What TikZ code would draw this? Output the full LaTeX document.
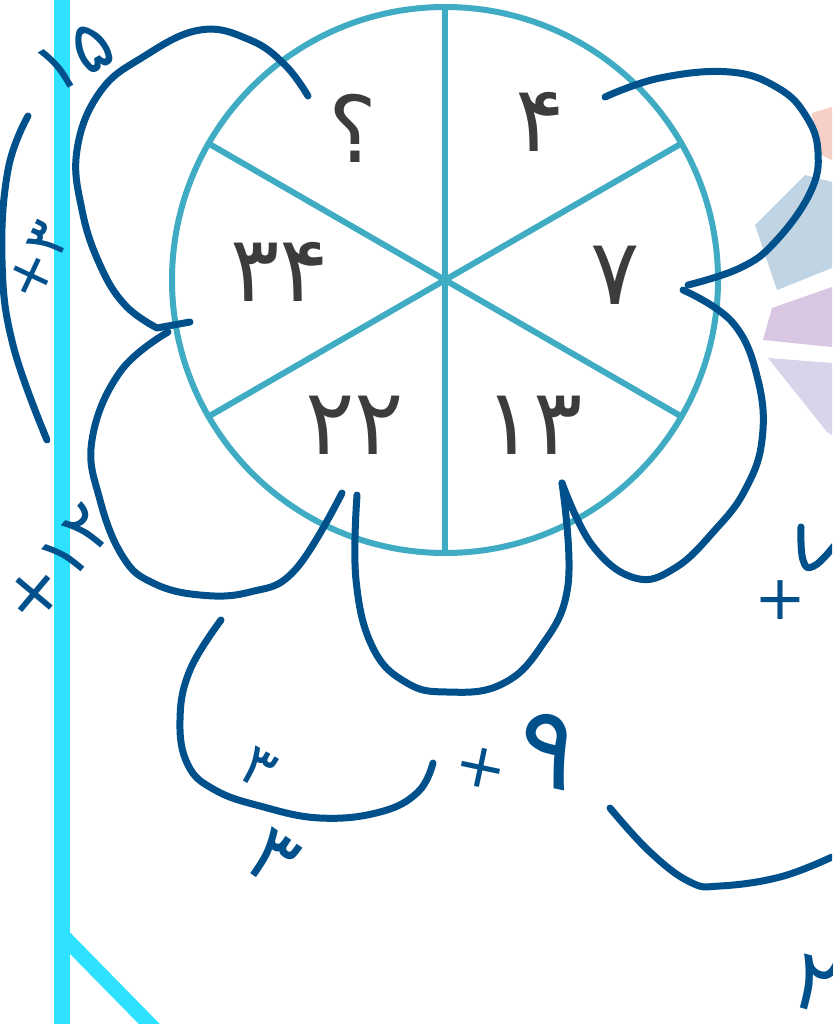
\documentclass[tikz,border=0pt]{standalone}
\usepackage{fontspec}
\newfontfamily\arabicfont[Script=Arabic]{DejaVu Sans}
\definecolor{ink}{RGB}{0,80,140}
\definecolor{teal}{RGB}{64,172,196}
\definecolor{cyanbar}{RGB}{45,225,255}
\definecolor{digit}{RGB}{60,60,60}
\definecolor{lpink}{RGB}{246,208,198}
\definecolor{lblue}{RGB}{192,212,228}
\definecolor{lpurple}{RGB}{216,198,226}
\definecolor{llav}{RGB}{218,212,234}
\tikzset{
  hand/.style={draw=ink,line width=7,line cap=round,line join=round},
  printed/.style={text=digit,font=\arabicfont\fontsize{92}{92}\selectfont,inner sep=0},
  handtext/.style={text=ink,font=\arabicfont\fontsize{#1}{#1}\selectfont,inner sep=0},
}
\begin{document}
\begin{tikzpicture}[x=1pt,y=-1pt]
\useasboundingbox (0,0) rectangle (832,1024);
\clip (0,0) rectangle (832,1024);
\fill[white] (0,0) rectangle (832,1024);
% faint logo
\fill[lpink] (812,113) -- (832,107) -- (832,160) -- (815,152) -- cycle;
\fill[lblue] (755,225) -- (805,175) -- (832,182) -- (832,268) -- (777,290) -- cycle;
\fill[lpurple] (772,308) -- (832,287) -- (832,347) -- (763,340) -- cycle;
\fill[llav] (768,358) -- (832,363) -- (832,435) -- (827,432) -- cycle;
% cyan bar
\fill[cyanbar] (54,0) rectangle (70,1024);
\draw[cyanbar,line width=15] (62,935) -- (165,1040);
% circle
\coordinate (c) at (445,280);
\draw[teal,line width=6] (c) circle (273);
\foreach \a in {90,30,-30,-90,-150,150}
  \draw[teal,line width=6] (c) -- ++(\a:273);
% printed numbers
\node[printed] (q) at (353,128) {؟};
\node[printed] (n4) at (540,122) {۴};
\node[printed] (n7) at (615,275) {۷};
\node[printed] (n13) at (534,425) {۱۳};
\node[printed] (n22) at (355,425) {۲۲};
\node[printed] (n34) at (280,272) {۳۴};
% hand strokes
\draw[hand] plot[smooth,tension=0.7] coordinates {(308,96) (285,65) (250,40) (200,30) (143,57) (100,92) (77,150) (82,210) (100,265) (125,305) (157,328)} -- (190,322);
\draw[hand] plot[smooth,tension=0.7] coordinates {(168,332) (120,372) (92,440) (100,500) (123,557) (153,583) (200,595) (250,592) (295,570) (342,493)};
\draw[hand] plot[smooth,tension=0.7] coordinates {(357,495) (356,580) (373,648) (407,683) (447,692) (500,685) (540,648) (568,585) (562,483)};
\draw[hand] plot[smooth,tension=0.7] coordinates {(562,483) (592,545) (635,578) (675,568) (715,530) (745,490) (762,440) (758,380) (733,323) (683,290)};
\draw[hand] plot[smooth,tension=0.7] coordinates {(688,285) (740,268) (775,242) (810,193) (818,152) (806,116) (778,88) (730,72) (660,78) (605,97)};
\draw[hand] plot[smooth,tension=0.7] coordinates {(28,116) (8,170) (2,260) (13,345) (47,440)};
\draw[hand] plot[smooth,tension=0.7] coordinates {(221,620) (190,670) (180,720) (188,765) (215,790) (260,806) (320,818) (380,812) (418,792) (433,763)};
\draw[hand] plot[smooth,tension=0.7] coordinates {(610,808) (650,852) (690,882) (720,886) (780,877) (832,857)};
\draw[hand] plot[smooth,tension=0.8] coordinates {(801,527) (803,560) (814,566) (834,546)};
% hand labels
\node[handtext=72,rotate=30] (l15) at (75,58) {۱۵};
\node[handtext=58,rotate=65] (lp3) at (38,262) {۳+};
\node[handtext=70,rotate=50] (lp12) at (58,565) {۱۲+};
\node[handtext=58,rotate=-30] (l3a) at (258,768) {۳};
\node[handtext=80,rotate=-35] (l3b) at (273,858) {۳};
\node[handtext=112,rotate=-12] (lp9) at (518,752) {\raisebox{-14pt}{\fontsize{62}{62}\selectfont +}\hspace{6pt}۹};
\node[handtext=62,anchor=west] (lp6) at (754,600) {+\hspace{22pt}۶};
\node[handtext=84,rotate=-15] (l2) at (816,985) {۲};
\end{tikzpicture}
\end{document}
